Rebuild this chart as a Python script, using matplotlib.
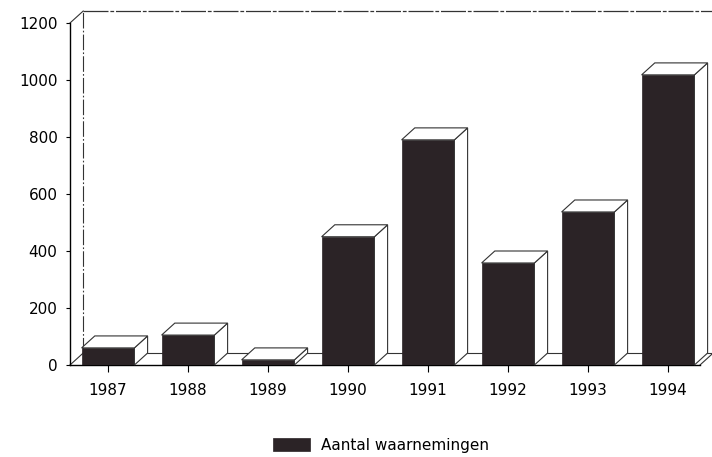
import numpy as np
import matplotlib.pyplot as plt
from matplotlib.patches import Polygon

plt.rcParams['font.family'] = ['DejaVu Sans']

years = ['1987', '1988', '1989', '1990', '1991', '1992', '1993', '1994']
counts = [60, 105, 18, 450, 790, 358, 537, 1018]
yticks = [0, 200, 400, 600, 800, 1000, 1200]

dark = '#2b2326'
edge = '#333333'

fig = plt.figure(figsize=(7.12, 4.57), dpi=100)
ax = fig.add_axes([70 / 712, 92 / 457, 630 / 712, 342 / 457])
ax.set_xlim(-0.475, 7.4)
ax.set_ylim(0, 1200)

# 3D depth offset (data units)
dx, dy = 0.165, 42
w = 0.66
x = np.arange(len(years))

# floor and back wall
x0, x1 = ax.get_xlim()
ax.plot([x0, x0 + dx], [0, dy], color=edge, lw=0.8, clip_on=False)
ax.plot([x0 + dx, x1 + dx + 0.1], [dy, dy], color=edge, lw=0.8, clip_on=False)
ax.plot([x1, x1 + 0.2], [0, 0.2 / dx * dy], color=edge, lw=0.8, clip_on=False)
ax.plot([x0, x0 + dx], [1200, 1200 + dy], color=edge, lw=0.8, clip_on=False)
ax.plot([x0 + dx, x0 + dx], [dy, 1200 + dy], color=edge, lw=0.8,
        linestyle=(0, (14, 2, 1.5, 2)), clip_on=False)
ax.plot([x0 + dx, x1 + 0.3], [1200 + dy, 1200 + dy], color=edge, lw=0.9,
        linestyle=(0, (20, 1.5, 3, 1.5)), clip_on=False)

bars = ax.bar(x, counts, width=w, color=dark, edgecolor=dark, lw=0.5,
              label='Aantal waarnemingen', zorder=3)

for xi, v in zip(x, counts):
    l, r = xi - w / 2, xi + w / 2
    top = Polygon([(l, v), (r, v), (r + dx, v + dy), (l + dx, v + dy)],
                  closed=True, facecolor='white', edgecolor=edge, lw=0.8,
                  zorder=4, clip_on=False)
    side = Polygon([(r, 0), (r + dx, dy), (r + dx, v + dy), (r, v)],
                   closed=True, facecolor='white', edgecolor=edge, lw=0.8,
                   zorder=4, clip_on=False)
    ax.add_patch(side)
    ax.add_patch(top)

for s in ['top', 'right']:
    ax.spines[s].set_visible(False)
ax.spines['left'].set_linewidth(1.0)
ax.spines['bottom'].set_linewidth(1.0)

ax.set_xticks(x)
ax.set_xticklabels(years, fontsize=11)
ax.set_yticks(yticks)
ax.set_yticklabels([str(t) for t in yticks], fontsize=11)
ax.tick_params(axis='y', direction='out', length=3, width=0.8, pad=6)
ax.tick_params(axis='x', direction='out', length=5, width=0.8, pad=8)

fig.legend(handles=[bars], loc='center', bbox_to_anchor=(0.535, 0.026),
           frameon=False, fontsize=11, handlelength=2.4, handleheight=1.0,
           handletextpad=0.7)

fig.savefig('out.png', dpi=100)
